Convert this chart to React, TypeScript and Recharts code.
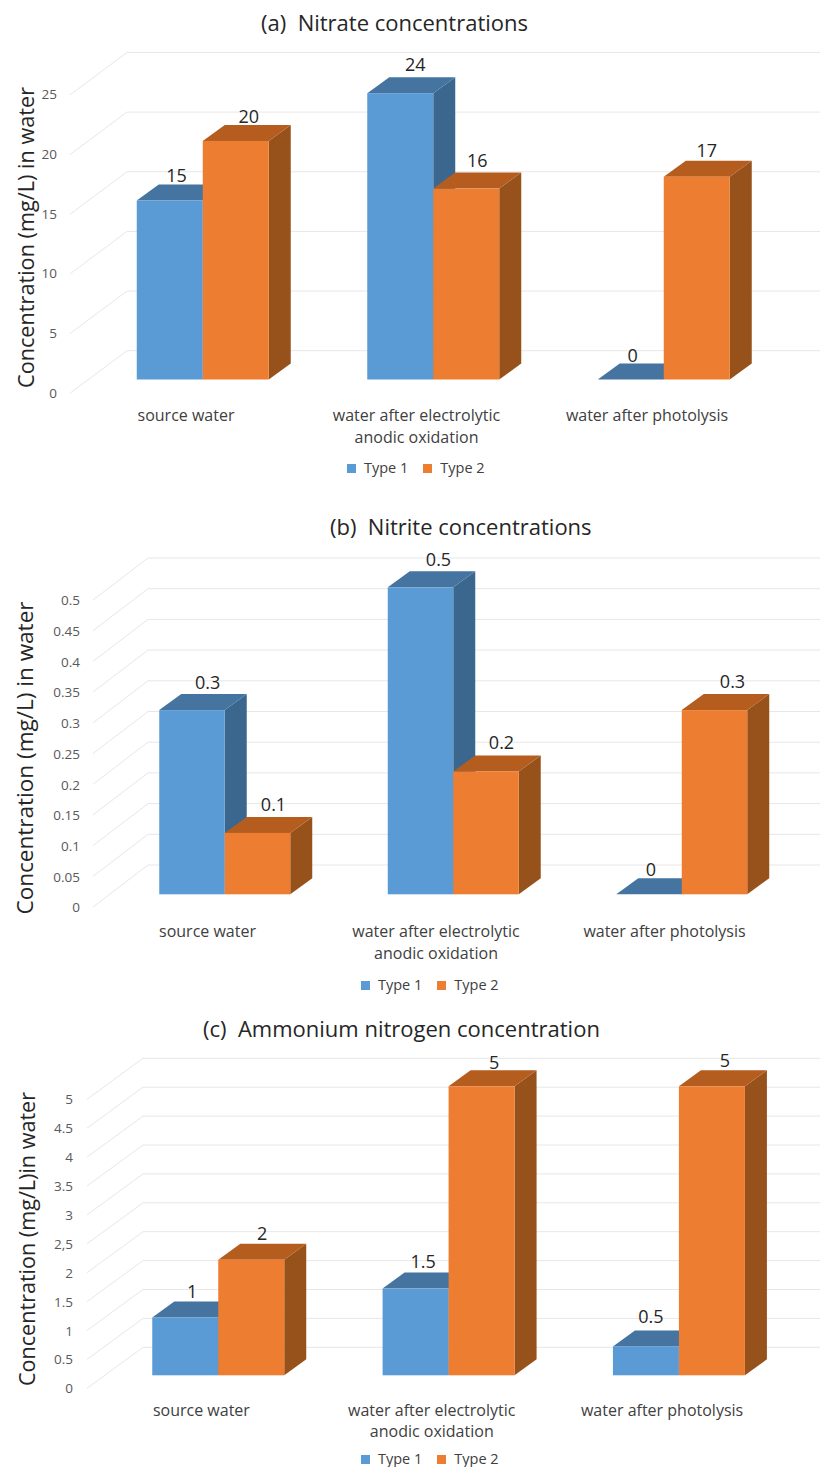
import React from "react";
import { BarChart, Bar, XAxis, YAxis, CartesianGrid, LabelList, Legend, Label } from "recharts";

const categories = ["source water", "water after electrolytic anodic oxidation", "water after photolysis"];
const categoryLines = [["source water"], ["water after electrolytic", "anodic oxidation"], ["water after photolysis"]];

const nitrateType1 = [15, 24, 0];
const nitrateType2 = [20, 16, 17];
const nitrateTicks = [0, 5, 10, 15, 20, 25];
const nitrateTickLabels = ["0", "5", "10", "15", "20", "25"];

const nitriteType1 = [0.3, 0.5, 0];
const nitriteType2 = [0.1, 0.2, 0.3];
const nitriteTicks = [0, 0.05, 0.1, 0.15, 0.2, 0.25, 0.3, 0.35, 0.4, 0.45, 0.5];
const nitriteTickLabels = ["0", "0.05", "0.1", "0.15", "0.2", "0.25", "0.3", "0.35", "0.4", "0.45", "0.5"];

const ammoniumType1 = [1, 1.5, 0.5];
const ammoniumType2 = [2, 5, 5];
const ammoniumTicks = [0, 0.5, 1, 1.5, 2, 2.5, 3, 3.5, 4, 4.5, 5];
const ammoniumTickLabels = ["0", "0.5", "1", "1.5", "2", "2,5", "3", "3.5", "4", "4.5", "5"];

const FONT = "'Open Sans', sans-serif";
const BLUE = "#5B9BD5";
const ORANGE = "#ED7D31";
const SHADES: Record<string, { top: string; side: string }> = {
  [BLUE]: { top: "#44749F", side: "#3B678F" },
  [ORANGE]: { top: "#B55D1F", side: "#97521C" },
};
const DX = 22;
const DY = 16;

const Bar3D = (p: any) => {
  const { x, y, width, height, fill } = p;
  const s = SHADES[fill];
  const r = x + width;
  const b = y + height;
  return (
    <g>
      <polygon points={`${r},${y} ${r + DX},${y - DY} ${r + DX},${b - DY} ${r},${b}`} fill={s.side} />
      <polygon points={`${x},${y} ${x + DX},${y - DY} ${r + DX},${y - DY} ${r},${y}`} fill={s.top} />
      <rect x={x} y={y} width={width} height={height} fill={fill} />
    </g>
  );
};

const makeTable = (t1: number[], t2: number[]) =>
  categories.map((name, i) => ({ name, t1: t1[i], t2: t2[i] }));

const charts = [
  {
    title: "(a)  Nitrate concentrations", titleY: 22, titleX: 261,
    t1: nitrateType1, t2: nitrateType2, ticks: nitrateTicks, tickLabels: nitrateTickLabels,
    max: 25, top: 81.25, bottom: 379.5, left: 87.75, right: 779.25, barW: 66,
    backDy: 28.8, backX: 127, slantX: 70, slantDy: 13.7, labelRight: 57,
    yTitle: "Concentration (mg/L) in water", yTitleX: 25, yTitleY: 237.5, yTitleLen: 301,
    catDy: [35.5, 57.5], catDx: -17,
    legendX: 347, legendY: 459,
    nudge1: [[6.7, -26], [15, -29], [2, -25]], nudge2: [[13, -25], [11, -29], [10, -27]],
  },
  {
    title: "(b)  Nitrite concentrations", titleY: 526, titleX: 330,
    t1: nitriteType1, t2: nitriteType2, ticks: nitriteTicks, tickLabels: nitriteTickLabels,
    max: 0.5, top: 587.3, bottom: 894.3, left: 110.25, right: 795.75, barW: 65.5,
    backDy: 29.3, backX: 148, slantX: 93, slantDy: 12.7, labelRight: 80,
    yTitle: "Concentration (mg/L) in water", yTitleX: 24, yTitleY: 758, yTitleLen: 313,
    catDy: [37, 59], catDx: -17,
    legendX: 361, legendY: 976,
    nudge1: [[15.6, -28], [18, -28], [2, -25]], nudge2: [[16, -28.7], [15.5, -30], [18, -29]],
  },
  {
    title: "(c)  Ammonium nitrogen concentration", titleY: 1028, titleX: 203,
    t1: ammoniumType1, t2: ammoniumType2, ticks: ammoniumTicks, tickLabels: ammoniumTickLabels,
    max: 5, top: 1086.3, bottom: 1375.3, left: 103.25, right: 794.25, barW: 66,
    backDy: 28, backX: 143, slantX: 87, slantDy: 13, labelRight: 73,
    yTitle: "Concentration (mg/L)in water", yTitleX: 26, yTitleY: 1239, yTitleLen: 294,
    catDy: [35, 56], catDx: -17,
    legendX: 361, legendY: 1450,
    nudge1: [[7, -27], [7.5, -27.5], [5, -30]], nudge2: [[11, -27], [12.5, -24], [13, -26]],
  },
];

const GRID = "#E7E7E7";
const H = 1467;

const Panel = ({ c }: { c: any }) => {
  const table = makeTable(c.t1, c.t2);
  const gridLine = (p: any) => {
    const y = p.y1;
    const by = y - c.backDy;
    return (
      <g key={p.key ?? y}>
        <line x1={c.backX} y1={by} x2={820} y2={by} stroke={GRID} strokeWidth={1} />
        <line x1={c.backX} y1={by} x2={c.slantX} y2={y + c.slantDy} stroke={GRID} strokeWidth={1} />
      </g>
    );
  };
  const yTick = (p: any) => (
    <text x={c.labelRight} y={p.y + 13} textAnchor="end" dominantBaseline="central" fontFamily={FONT} fontSize={13.5} fill="#595959">
      {c.tickLabels[p.index]}
    </text>
  );
  const xTick = (p: any) => (
    <g>
      {categoryLines[p.index].map((l: string, i: number) => (
        <text key={i} x={p.x + c.catDx} y={c.bottom + c.catDy[i]} textAnchor="middle" dominantBaseline="central" fontFamily={FONT} fontSize={16} fill="#404040">
          {l}
        </text>
      ))}
    </g>
  );
  const valueLabel = (nudge: number[][]) => (p: any) => {
    const n = nudge[p.index];
    return (
      <text x={p.x + p.width / 2 + n[0]} y={p.y + n[1]} textAnchor="middle" dominantBaseline="central" fontFamily={FONT} fontSize={18} fill="#262626">
        {p.value}
      </text>
    );
  };
  const legendContent = (p: any) => (
    <div style={{ display: "flex", alignItems: "center", fontFamily: FONT, fontSize: 14.5, color: "#404040", lineHeight: "18px" }}>
      {p.payload.map((e: any, i: number) => (
        <div key={i} style={{ display: "flex", alignItems: "center", marginRight: 15 }}>
          <span style={{ width: 9, height: 9, background: e.color, marginRight: 8, display: "inline-block" }} />
          <span>{e.value}</span>
        </div>
      ))}
    </div>
  );
  const yTitle = () => (
    <text
      transform={`translate(${c.yTitleX},${c.yTitleY}) rotate(-90)`}
      textAnchor="middle"
      dominantBaseline="central"
      fontFamily={FONT}
      fontSize={22}
      fill="#262626"
      textLength={c.yTitleLen}
      lengthAdjust="spacingAndGlyphs"
    >
      {c.yTitle}
    </text>
  );
  return (
    <div style={{ position: "absolute", left: 0, top: 0, width: 822, height: H }}>
      <BarChart
        width={822}
        height={H}
        data={table}
        barSize={c.barW}
        barGap={0}
        margin={{ top: c.top, bottom: 0, left: 0, right: 822 - c.right }}
        style={{ position: "absolute", left: 0, top: 0 }}
      >
        <CartesianGrid vertical={false} horizontal={gridLine} />
        <XAxis dataKey="name" height={H - c.bottom} axisLine={false} tickLine={false} tickSize={0} tickMargin={0} tick={xTick} interval={0} />
        <YAxis width={c.left} domain={[0, c.max]} ticks={c.ticks} axisLine={false} tickLine={false} tickSize={0} tickMargin={0} tick={yTick} interval={0}>
          <Label content={yTitle} />
        </YAxis>
        <Legend
          align="center"
          verticalAlign="middle"
          layout="horizontal"
          content={legendContent}
          wrapperStyle={{ left: c.legendX, top: c.legendY, width: 170, height: 18, bottom: "auto" }}
        />
        <Bar dataKey="t1" name="Type 1" fill={BLUE} shape={Bar3D} isAnimationActive={false}>
          <LabelList dataKey="t1" content={valueLabel(c.nudge1)} />
        </Bar>
        <Bar dataKey="t2" name="Type 2" fill={ORANGE} shape={Bar3D} isAnimationActive={false}>
          <LabelList dataKey="t2" content={valueLabel(c.nudge2)} />
        </Bar>
      </BarChart>
      <div
        style={{
          position: "absolute", left: c.titleX, top: c.titleY - 15, height: 30, lineHeight: "30px",
          fontFamily: FONT, fontSize: 22, color: "#262626", whiteSpace: "pre",
        }}
      >
        {c.title}
      </div>
    </div>
  );
};

export default function App() {
  return (
    <div style={{ position: "absolute", left: 0, top: 0, width: 822, height: H, overflow: "hidden", background: "#fff" }}>
      {charts.map((c, i) => (
        <Panel key={i} c={c} />
      ))}
    </div>
  );
}
